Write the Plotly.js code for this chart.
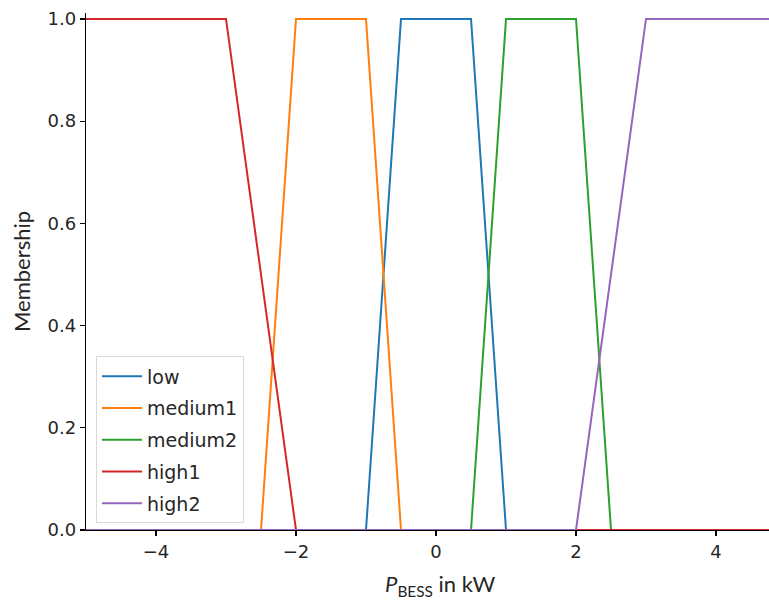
<!DOCTYPE html>
<html>
<head>
<meta charset="utf-8">
<script src="https://cdn.plot.ly/plotly-3.0.1.min.js"></script>
<style>html,body{margin:0;padding:0;background:#fff;}#chart{width:769px;height:606px;}</style>
</head>
<body>
<div id="chart"></div>
<script>
// Membership functions (breakpoints on the kW universe, membership values)
const lowX = [-5, -1, -0.5, 0.5, 1, 5];
const lowY = [0, 0, 1, 1, 0, 0];
const medium1X = [-5, -2.5, -2, -1, -0.5, 5];
const medium1Y = [0, 0, 1, 1, 0, 0];
const medium2X = [-5, 0.5, 1, 2, 2.5, 5];
const medium2Y = [0, 0, 1, 1, 0, 0];
const high1X = [-5, -3, -2, 5];
const high1Y = [1, 1, 0, 0];
const high2X = [-5, 2, 3, 5];
const high2Y = [0, 0, 1, 1];

const names = ['low', 'medium1', 'medium2', 'high1', 'high2'];
const colors = ['#1f77b4', '#ff7f0e', '#2ca02c', '#d62728', '#9467bd'];
const xs = [lowX, medium1X, medium2X, high1X, high2X];
const ys = [lowY, medium1Y, medium2Y, high1Y, high2Y];

const xTickVals = [-4, -2, 0, 2, 4];
const xTickText = ['\u22124', '\u22122', '0', '2', '4'];
const yTickVals = [0, 0.2, 0.4, 0.6, 0.8, 1.0];
const yTickText = ['0.0', '0.2', '0.4', '0.6', '0.8', '1.0'];

const traces = names.map((n, i) => ({
  x: xs[i], y: ys[i], type: 'scatter', mode: 'lines', name: n,
  legendgroup: n,
  line: {color: colors[i], width: 2},
  hoverinfo: 'skip'
}));

const tickFont = {family: 'DejaVu Sans', size: 18, color: '#262626'};

const layout = {
  width: 769, height: 606,
  margin: {l: 86, r: 0, t: 13, b: 76},
  paper_bgcolor: '#fff', plot_bgcolor: '#fff',
  showlegend: true,
  xaxis: {
    range: [-5, 4.757], showgrid: false, zeroline: false,
    showline: true, linecolor: '#000', linewidth: 1.2,
    ticks: 'outside', ticklen: 5, tickwidth: 1.2, tickcolor: '#000',
    tickvals: xTickVals, ticktext: xTickText,
    tickfont: tickFont
  },
  yaxis: {
    range: [0, 1.0117], showgrid: false, zeroline: false,
    showline: true, linecolor: '#000', linewidth: 1.2,
    ticks: 'outside', ticklen: 5, tickwidth: 1.2, tickcolor: '#000',
    tickvals: yTickVals, ticktext: yTickText,
    tickfont: tickFont,
    title: {text: 'Membership', font: {family: 'Lato', size: 22, color: '#262626'}, standoff: 10}
  },
  legend: {
    x: 0.0146, y: 0.0126, xanchor: 'left', yanchor: 'bottom',
    bgcolor: 'rgba(255,255,255,0.8)', bordercolor: '#d9d9d9', borderwidth: 1,
    font: {family: 'DejaVu Sans', size: 19, color: '#262626'},
    tracegroupgap: 4, itemwidth: 40
  },
  annotations: [{
    xref: 'paper', yref: 'paper', x: (440 - 86) / 683, y: -(586 - 530.5) / 517.5,
    xanchor: 'center', yanchor: 'middle', showarrow: false,
    text: '<i>P</i><sub>BESS</sub> in kW',
    font: {family: 'Lato', size: 22, color: '#262626'}
  }]
};

Plotly.newPlot('chart', traces, layout, {displayModeBar: false, staticPlot: true});
</script>
</body>
</html>
